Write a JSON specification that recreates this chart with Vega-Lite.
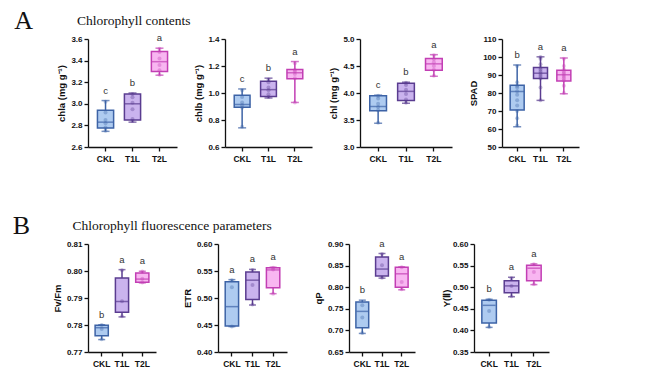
{
  "$schema": "https://vega.github.io/schema/vega-lite/v6.json",
  "padding": {"left": 12, "top": 7, "right": 5, "bottom": 5},
  "data": {"values": [
    {"panel":"chla","group":"CKL","min":2.745,"q1":2.775,"median":2.83,"q3":2.94,"max":3.03,"letter":"c"},
    {"panel":"chla","group":"T1L","min":2.83,"q1":2.85,"median":3.0,"q3":3.09,"max":3.1,"letter":"b"},
    {"panel":"chla","group":"T2L","min":3.265,"q1":3.3,"median":3.39,"q3":3.485,"max":3.515,"letter":"a"},
    {"panel":"chlb","group":"CKL","min":0.742,"q1":0.895,"median":0.915,"q3":0.983,"max":1.03,"letter":"c"},
    {"panel":"chlb","group":"T1L","min":0.963,"q1":0.975,"median":1.025,"q3":1.087,"max":1.11,"letter":"b"},
    {"panel":"chlb","group":"T2L","min":0.93,"q1":1.105,"median":1.15,"q3":1.175,"max":1.233,"letter":"a"},
    {"panel":"chl","group":"CKL","min":3.44,"q1":3.67,"median":3.75,"q3":3.95,"max":3.96,"letter":"c"},
    {"panel":"chl","group":"T1L","min":3.81,"q1":3.86,"median":4.03,"q3":4.18,"max":4.2,"letter":"b"},
    {"panel":"chl","group":"T2L","min":4.31,"q1":4.42,"median":4.54,"q3":4.64,"max":4.71,"letter":"a"},
    {"panel":"SPAD","group":"CKL","min":61.2,"q1":70.5,"median":80.9,"q3":84.3,"max":95.6,"letter":"b"},
    {"panel":"SPAD","group":"T1L","min":75.9,"q1":88.0,"median":91.0,"q3":94.2,"max":100.1,"letter":"a"},
    {"panel":"SPAD","group":"T2L","min":79.6,"q1":86.7,"median":90.1,"q3":92.7,"max":99.4,"letter":"a"},
    {"panel":"FvFm","group":"CKL","min":0.7746,"q1":0.776,"median":0.779,"q3":0.7799,"max":0.7801,"letter":"b"},
    {"panel":"FvFm","group":"T1L","min":0.783,"q1":0.7847,"median":0.7887,"q3":0.7974,"max":0.8005,"letter":"a"},
    {"panel":"FvFm","group":"T2L","min":0.7956,"q1":0.7958,"median":0.797,"q3":0.7993,"max":0.7999,"letter":"a"},
    {"panel":"ETR","group":"CKL","min":0.447,"q1":0.448,"median":0.484,"q3":0.53,"max":0.534,"letter":"a"},
    {"panel":"ETR","group":"T1L","min":0.487,"q1":0.497,"median":0.533,"q3":0.548,"max":0.553,"letter":"a"},
    {"panel":"ETR","group":"T2L","min":0.508,"q1":0.519,"median":0.552,"q3":0.556,"max":0.557,"letter":"a"},
    {"panel":"qP","group":"CKL","min":0.693,"q1":0.706,"median":0.744,"q3":0.766,"max":0.77,"letter":"b"},
    {"panel":"qP","group":"T1L","min":0.821,"q1":0.826,"median":0.842,"q3":0.87,"max":0.878,"letter":"a"},
    {"panel":"qP","group":"T2L","min":0.794,"q1":0.8,"median":0.831,"q3":0.846,"max":0.847,"letter":"a"},
    {"panel":"YII","group":"CKL","min":0.407,"q1":0.417,"median":0.458,"q3":0.47,"max":0.472,"letter":"b"},
    {"panel":"YII","group":"T1L","min":0.478,"q1":0.487,"median":0.503,"q3":0.515,"max":0.523,"letter":"a"},
    {"panel":"YII","group":"T2L","min":0.506,"q1":0.515,"median":0.544,"q3":0.551,"max":0.554,"letter":"a"},
    {"panel":"chla","group":"CKL","value":2.75},{"panel":"chla","group":"CKL","value":2.78},{"panel":"chla","group":"CKL","value":2.82},{"panel":"chla","group":"CKL","value":2.85},{"panel":"chla","group":"CKL","value":2.92},{"panel":"chla","group":"CKL","value":3.02},
    {"panel":"chla","group":"T1L","value":2.84},{"panel":"chla","group":"T1L","value":2.86},{"panel":"chla","group":"T1L","value":2.95},{"panel":"chla","group":"T1L","value":3.01},{"panel":"chla","group":"T1L","value":3.06},{"panel":"chla","group":"T1L","value":3.09},
    {"panel":"chla","group":"T2L","value":3.27},{"panel":"chla","group":"T2L","value":3.31},{"panel":"chla","group":"T2L","value":3.36},{"panel":"chla","group":"T2L","value":3.42},{"panel":"chla","group":"T2L","value":3.48},{"panel":"chla","group":"T2L","value":3.51},
    {"panel":"chlb","group":"CKL","value":0.75},{"panel":"chlb","group":"CKL","value":0.89},{"panel":"chlb","group":"CKL","value":0.91},{"panel":"chlb","group":"CKL","value":0.93},{"panel":"chlb","group":"CKL","value":0.97},{"panel":"chlb","group":"CKL","value":1.02},
    {"panel":"chlb","group":"T1L","value":0.97},{"panel":"chlb","group":"T1L","value":0.99},{"panel":"chlb","group":"T1L","value":1.02},{"panel":"chlb","group":"T1L","value":1.04},{"panel":"chlb","group":"T1L","value":1.08},{"panel":"chlb","group":"T1L","value":1.1},
    {"panel":"chlb","group":"T2L","value":0.93},{"panel":"chlb","group":"T2L","value":1.11},{"panel":"chlb","group":"T2L","value":1.14},{"panel":"chlb","group":"T2L","value":1.16},{"panel":"chlb","group":"T2L","value":1.17},{"panel":"chlb","group":"T2L","value":1.22},
    {"panel":"chl","group":"CKL","value":3.45},{"panel":"chl","group":"CKL","value":3.68},{"panel":"chl","group":"CKL","value":3.74},{"panel":"chl","group":"CKL","value":3.8},{"panel":"chl","group":"CKL","value":3.9},{"panel":"chl","group":"CKL","value":3.95},
    {"panel":"chl","group":"T1L","value":3.82},{"panel":"chl","group":"T1L","value":3.88},{"panel":"chl","group":"T1L","value":3.98},{"panel":"chl","group":"T1L","value":4.06},{"panel":"chl","group":"T1L","value":4.15},{"panel":"chl","group":"T1L","value":4.19},
    {"panel":"chl","group":"T2L","value":4.32},{"panel":"chl","group":"T2L","value":4.43},{"panel":"chl","group":"T2L","value":4.5},{"panel":"chl","group":"T2L","value":4.57},{"panel":"chl","group":"T2L","value":4.63},{"panel":"chl","group":"T2L","value":4.7},
    {"panel":"SPAD","group":"CKL","value":62},{"panel":"SPAD","group":"CKL","value":66},{"panel":"SPAD","group":"CKL","value":70},{"panel":"SPAD","group":"CKL","value":73},{"panel":"SPAD","group":"CKL","value":76},{"panel":"SPAD","group":"CKL","value":79},{"panel":"SPAD","group":"CKL","value":81},{"panel":"SPAD","group":"CKL","value":83},{"panel":"SPAD","group":"CKL","value":84},{"panel":"SPAD","group":"CKL","value":86},{"panel":"SPAD","group":"CKL","value":95},
    {"panel":"SPAD","group":"T1L","value":76},{"panel":"SPAD","group":"T1L","value":83},{"panel":"SPAD","group":"T1L","value":88},{"panel":"SPAD","group":"T1L","value":89},{"panel":"SPAD","group":"T1L","value":90},{"panel":"SPAD","group":"T1L","value":91},{"panel":"SPAD","group":"T1L","value":92},{"panel":"SPAD","group":"T1L","value":93},{"panel":"SPAD","group":"T1L","value":94},{"panel":"SPAD","group":"T1L","value":96},{"panel":"SPAD","group":"T1L","value":99},{"panel":"SPAD","group":"T1L","value":100},
    {"panel":"SPAD","group":"T2L","value":80},{"panel":"SPAD","group":"T2L","value":84},{"panel":"SPAD","group":"T2L","value":87},{"panel":"SPAD","group":"T2L","value":88},{"panel":"SPAD","group":"T2L","value":89},{"panel":"SPAD","group":"T2L","value":90},{"panel":"SPAD","group":"T2L","value":91},{"panel":"SPAD","group":"T2L","value":92},{"panel":"SPAD","group":"T2L","value":93},{"panel":"SPAD","group":"T2L","value":95},{"panel":"SPAD","group":"T2L","value":99},
    {"panel":"FvFm","group":"CKL","value":0.7747},{"panel":"FvFm","group":"CKL","value":0.7785},{"panel":"FvFm","group":"CKL","value":0.78},
    {"panel":"FvFm","group":"T1L","value":0.7832},{"panel":"FvFm","group":"T1L","value":0.7888},{"panel":"FvFm","group":"T1L","value":0.8003},
    {"panel":"FvFm","group":"T2L","value":0.7957},{"panel":"FvFm","group":"T2L","value":0.7971},{"panel":"FvFm","group":"T2L","value":0.7998},
    {"panel":"ETR","group":"CKL","value":0.447},{"panel":"ETR","group":"CKL","value":0.52},{"panel":"ETR","group":"CKL","value":0.533},
    {"panel":"ETR","group":"T1L","value":0.488},{"panel":"ETR","group":"T1L","value":0.524},{"panel":"ETR","group":"T1L","value":0.552},
    {"panel":"ETR","group":"T2L","value":0.508},{"panel":"ETR","group":"T2L","value":0.553},{"panel":"ETR","group":"T2L","value":0.556},
    {"panel":"qP","group":"CKL","value":0.694},{"panel":"qP","group":"CKL","value":0.73},{"panel":"qP","group":"CKL","value":0.758},
    {"panel":"qP","group":"T1L","value":0.822},{"panel":"qP","group":"T1L","value":0.851},{"panel":"qP","group":"T1L","value":0.877},
    {"panel":"qP","group":"T2L","value":0.795},{"panel":"qP","group":"T2L","value":0.812},{"panel":"qP","group":"T2L","value":0.846},
    {"panel":"YII","group":"CKL","value":0.408},{"panel":"YII","group":"CKL","value":0.445},{"panel":"YII","group":"CKL","value":0.471},
    {"panel":"YII","group":"T1L","value":0.479},{"panel":"YII","group":"T1L","value":0.503},{"panel":"YII","group":"T1L","value":0.521},
    {"panel":"YII","group":"T2L","value":0.507},{"panel":"YII","group":"T2L","value":0.535},{"panel":"YII","group":"T2L","value":0.553}
  ]},
  "config": {
    "view": {"stroke": null},
    "font": "Liberation Sans",
    "axis": {"domainColor": "#111", "domainWidth": 1.3, "tickColor": "#111", "tickWidth": 1.3, "tickSize": 4, "labelFont": "Liberation Sans", "labelFontWeight": "bold", "labelFontSize": 8, "labelColor": "#111", "titleFont": "Liberation Sans", "titleFontWeight": "bold", "titleFontSize": 9.5, "titleColor": "#111", "grid": false, "labelPadding": 2, "titlePadding": 4, "labelOverlap": false, "labelFlush": false, "labelBound": false},
    "axisX": {"labelAngle": 0, "labelPadding": 3, "labelFontSize": 8.5},
    "title": {"font": "Liberation Serif", "fontWeight": "normal", "fontSize": 13.5, "color": "#111", "anchor": "start", "offset": 6},
    "tick": {"thickness": 1.5},
    "text": {"font": "Liberation Sans", "fontSize": 9.5, "color": "#333", "baseline": "middle", "dy": -10},
    "circle": {"size": 16, "opacity": 0.35}
  },
  "spacing": 50,
  "vconcat": [
    {
      "title": {"text": "A", "orient": "left", "angle": 0, "anchor": "end", "font": "Liberation Serif", "fontSize": 26, "align": "right", "baseline": "top", "offset": 5, "dy": -6},
      "hconcat": [
        {
          "title": {"text": "Chlorophyll contents", "dx": 20},
          "spacing": 16,
          "hconcat": [
            {
              "width": 89, "height": 108,
              "transform": [{"filter": "datum.panel === 'chla'"}],
              "encoding": {"x": {"field": "group", "type": "nominal", "sort": null, "title": null, "scale": {"domain": ["CKL","T1L","T2L"], "paddingInner": 0.4, "paddingOuter": 0.35}}},
              "layer": [
                {"mark": {"type": "rule", "strokeWidth": 1.5}, "encoding": {"y": {"field": "min", "type": "quantitative", "title": "chla (mg g⁻¹)", "scale": {"domain": [2.6, 3.6], "nice": false, "zero": false}, "axis": {"values": [2.6, 2.8, 3.0, 3.2, 3.4, 3.6], "format": ".1f", "tickCount": 20}}, "y2": {"field": "max"}, "color": {"field": "group", "type": "nominal", "scale": {"domain": ["CKL","T1L","T2L"], "range": ["#3d63a6","#5a3c90","#c23fb4"]}, "legend": null}}},
                {"mark": {"type": "bar", "strokeWidth": 1.5}, "encoding": {"y": {"field": "q1", "type": "quantitative", "title": "chla (mg g⁻¹)"}, "y2": {"field": "q3"}, "fill": {"field": "group", "type": "nominal", "scale": {"domain": ["CKL","T1L","T2L"], "range": ["#aecbf0","#cab3ee","#f8b6f1"]}, "legend": null}, "stroke": {"field": "group", "type": "nominal", "scale": {"domain": ["CKL","T1L","T2L"], "range": ["#3d63a6","#5a3c90","#c23fb4"]}, "legend": null}}},
                {"mark": {"type": "circle"}, "encoding": {"y": {"field": "value", "type": "quantitative", "title": "chla (mg g⁻¹)"}, "color": {"field": "group", "type": "nominal", "legend": null}}},
                {"mark": {"type": "tick", "size": 16}, "encoding": {"y": {"field": "median", "type": "quantitative", "title": "chla (mg g⁻¹)"}, "color": {"field": "group", "type": "nominal", "legend": null}}},
                {"mark": {"type": "tick", "size": 8}, "encoding": {"y": {"field": "min", "type": "quantitative", "title": "chla (mg g⁻¹)"}, "color": {"field": "group", "type": "nominal", "legend": null}}},
                {"mark": {"type": "tick", "size": 8}, "encoding": {"y": {"field": "max", "type": "quantitative", "title": "chla (mg g⁻¹)"}, "color": {"field": "group", "type": "nominal", "legend": null}}},
                {"mark": {"type": "text"}, "encoding": {"y": {"field": "max", "type": "quantitative", "title": "chla (mg g⁻¹)"}, "text": {"field": "letter"}}}
              ]
            },
            {
              "width": 87, "height": 108,
              "transform": [{"filter": "datum.panel === 'chlb'"}],
              "encoding": {"x": {"field": "group", "type": "nominal", "sort": null, "title": null, "scale": {"domain": ["CKL","T1L","T2L"], "paddingInner": 0.4, "paddingOuter": 0.35}}},
              "layer": [
                {"mark": {"type": "rule", "strokeWidth": 1.5}, "encoding": {"y": {"field": "min", "type": "quantitative", "title": "chlb (mg g⁻¹)", "scale": {"domain": [0.6, 1.4], "nice": false, "zero": false}, "axis": {"values": [0.6, 0.8, 1.0, 1.2, 1.4], "format": ".1f", "tickCount": 20}}, "y2": {"field": "max"}, "color": {"field": "group", "type": "nominal", "scale": {"domain": ["CKL","T1L","T2L"], "range": ["#3d63a6","#5a3c90","#c23fb4"]}, "legend": null}}},
                {"mark": {"type": "bar", "strokeWidth": 1.5}, "encoding": {"y": {"field": "q1", "type": "quantitative", "title": "chlb (mg g⁻¹)"}, "y2": {"field": "q3"}, "fill": {"field": "group", "type": "nominal", "scale": {"domain": ["CKL","T1L","T2L"], "range": ["#aecbf0","#cab3ee","#f8b6f1"]}, "legend": null}, "stroke": {"field": "group", "type": "nominal", "scale": {"domain": ["CKL","T1L","T2L"], "range": ["#3d63a6","#5a3c90","#c23fb4"]}, "legend": null}}},
                {"mark": {"type": "circle"}, "encoding": {"y": {"field": "value", "type": "quantitative", "title": "chlb (mg g⁻¹)"}, "color": {"field": "group", "type": "nominal", "legend": null}}},
                {"mark": {"type": "tick", "size": 16}, "encoding": {"y": {"field": "median", "type": "quantitative", "title": "chlb (mg g⁻¹)"}, "color": {"field": "group", "type": "nominal", "legend": null}}},
                {"mark": {"type": "tick", "size": 8}, "encoding": {"y": {"field": "min", "type": "quantitative", "title": "chlb (mg g⁻¹)"}, "color": {"field": "group", "type": "nominal", "legend": null}}},
                {"mark": {"type": "tick", "size": 8}, "encoding": {"y": {"field": "max", "type": "quantitative", "title": "chlb (mg g⁻¹)"}, "color": {"field": "group", "type": "nominal", "legend": null}}},
                {"mark": {"type": "text"}, "encoding": {"y": {"field": "max", "type": "quantitative", "title": "chlb (mg g⁻¹)"}, "text": {"field": "letter"}}}
              ]
            },
            {
              "width": 92, "height": 108,
              "transform": [{"filter": "datum.panel === 'chl'"}],
              "encoding": {"x": {"field": "group", "type": "nominal", "sort": null, "title": null, "scale": {"domain": ["CKL","T1L","T2L"], "paddingInner": 0.4, "paddingOuter": 0.35}}},
              "layer": [
                {"mark": {"type": "rule", "strokeWidth": 1.5}, "encoding": {"y": {"field": "min", "type": "quantitative", "title": "chl (mg g⁻¹)", "scale": {"domain": [3.0, 5.0], "nice": false, "zero": false}, "axis": {"values": [3.0, 3.5, 4.0, 4.5, 5.0], "format": ".1f", "tickCount": 20}}, "y2": {"field": "max"}, "color": {"field": "group", "type": "nominal", "scale": {"domain": ["CKL","T1L","T2L"], "range": ["#3d63a6","#5a3c90","#c23fb4"]}, "legend": null}}},
                {"mark": {"type": "bar", "strokeWidth": 1.5}, "encoding": {"y": {"field": "q1", "type": "quantitative", "title": "chl (mg g⁻¹)"}, "y2": {"field": "q3"}, "fill": {"field": "group", "type": "nominal", "scale": {"domain": ["CKL","T1L","T2L"], "range": ["#aecbf0","#cab3ee","#f8b6f1"]}, "legend": null}, "stroke": {"field": "group", "type": "nominal", "scale": {"domain": ["CKL","T1L","T2L"], "range": ["#3d63a6","#5a3c90","#c23fb4"]}, "legend": null}}},
                {"mark": {"type": "circle"}, "encoding": {"y": {"field": "value", "type": "quantitative", "title": "chl (mg g⁻¹)"}, "color": {"field": "group", "type": "nominal", "legend": null}}},
                {"mark": {"type": "tick", "size": 17}, "encoding": {"y": {"field": "median", "type": "quantitative", "title": "chl (mg g⁻¹)"}, "color": {"field": "group", "type": "nominal", "legend": null}}},
                {"mark": {"type": "tick", "size": 8}, "encoding": {"y": {"field": "min", "type": "quantitative", "title": "chl (mg g⁻¹)"}, "color": {"field": "group", "type": "nominal", "legend": null}}},
                {"mark": {"type": "tick", "size": 8}, "encoding": {"y": {"field": "max", "type": "quantitative", "title": "chl (mg g⁻¹)"}, "color": {"field": "group", "type": "nominal", "legend": null}}},
                {"mark": {"type": "text"}, "encoding": {"y": {"field": "max", "type": "quantitative", "title": "chl (mg g⁻¹)"}, "text": {"field": "letter"}}}
              ]
            },
            {
              "width": 77, "height": 108,
              "transform": [{"filter": "datum.panel === 'SPAD'"}],
              "encoding": {"x": {"field": "group", "type": "nominal", "sort": null, "title": null, "scale": {"domain": ["CKL","T1L","T2L"], "paddingInner": 0.4, "paddingOuter": 0.35}}},
              "layer": [
                {"mark": {"type": "rule", "strokeWidth": 1.5}, "encoding": {"y": {"field": "min", "type": "quantitative", "title": "SPAD", "scale": {"domain": [50, 110], "nice": false, "zero": false}, "axis": {"values": [50, 60, 70, 80, 90, 100, 110], "format": "d", "tickCount": 20}}, "y2": {"field": "max"}, "color": {"field": "group", "type": "nominal", "scale": {"domain": ["CKL","T1L","T2L"], "range": ["#3d63a6","#5a3c90","#c23fb4"]}, "legend": null}}},
                {"mark": {"type": "bar", "strokeWidth": 1.5}, "encoding": {"y": {"field": "q1", "type": "quantitative", "title": "SPAD"}, "y2": {"field": "q3"}, "fill": {"field": "group", "type": "nominal", "scale": {"domain": ["CKL","T1L","T2L"], "range": ["#aecbf0","#cab3ee","#f8b6f1"]}, "legend": null}, "stroke": {"field": "group", "type": "nominal", "scale": {"domain": ["CKL","T1L","T2L"], "range": ["#3d63a6","#5a3c90","#c23fb4"]}, "legend": null}}},
                {"mark": {"type": "circle"}, "encoding": {"y": {"field": "value", "type": "quantitative", "title": "SPAD"}, "color": {"field": "group", "type": "nominal", "legend": null}}},
                {"mark": {"type": "tick", "size": 14}, "encoding": {"y": {"field": "median", "type": "quantitative", "title": "SPAD"}, "color": {"field": "group", "type": "nominal", "legend": null}}},
                {"mark": {"type": "tick", "size": 8}, "encoding": {"y": {"field": "min", "type": "quantitative", "title": "SPAD"}, "color": {"field": "group", "type": "nominal", "legend": null}}},
                {"mark": {"type": "tick", "size": 8}, "encoding": {"y": {"field": "max", "type": "quantitative", "title": "SPAD"}, "color": {"field": "group", "type": "nominal", "legend": null}}},
                {"mark": {"type": "text"}, "encoding": {"y": {"field": "max", "type": "quantitative", "title": "SPAD"}, "text": {"field": "letter"}}}
              ]
            }
          ]
        }
      ]
    },
    {
      "title": {"text": "B", "orient": "left", "angle": 0, "anchor": "end", "font": "Liberation Serif", "fontSize": 26, "align": "right", "baseline": "top", "offset": 5, "dy": -6},
      "hconcat": [
        {
          "title": {"text": "Chlorophyll fluorescence parameters", "dx": 20},
          "spacing": 26,
          "hconcat": [
            {
              "width": 68, "height": 108,
              "transform": [{"filter": "datum.panel === 'FvFm'"}],
              "encoding": {"x": {"field": "group", "type": "nominal", "sort": null, "title": null, "scale": {"domain": ["CKL","T1L","T2L"], "paddingInner": 0.35, "paddingOuter": 0.35}}},
              "layer": [
                {"mark": {"type": "rule", "strokeWidth": 1.5}, "encoding": {"y": {"field": "min", "type": "quantitative", "title": "Fv/Fm", "scale": {"domain": [0.77, 0.81], "nice": false, "zero": false}, "axis": {"values": [0.77, 0.78, 0.79, 0.80, 0.81], "format": ".2f", "tickCount": 20}}, "y2": {"field": "max"}, "color": {"field": "group", "type": "nominal", "scale": {"domain": ["CKL","T1L","T2L"], "range": ["#3d63a6","#5a3c90","#c23fb4"]}, "legend": null}}},
                {"mark": {"type": "bar", "strokeWidth": 1.5}, "encoding": {"y": {"field": "q1", "type": "quantitative", "title": "Fv/Fm"}, "y2": {"field": "q3"}, "fill": {"field": "group", "type": "nominal", "scale": {"domain": ["CKL","T1L","T2L"], "range": ["#aecbf0","#cab3ee","#f8b6f1"]}, "legend": null}, "stroke": {"field": "group", "type": "nominal", "scale": {"domain": ["CKL","T1L","T2L"], "range": ["#3d63a6","#5a3c90","#c23fb4"]}, "legend": null}}},
                {"mark": {"type": "circle"}, "encoding": {"y": {"field": "value", "type": "quantitative", "title": "Fv/Fm"}, "color": {"field": "group", "type": "nominal", "legend": null}}},
                {"mark": {"type": "tick", "size": 13}, "encoding": {"y": {"field": "median", "type": "quantitative", "title": "Fv/Fm"}, "color": {"field": "group", "type": "nominal", "legend": null}}},
                {"mark": {"type": "tick", "size": 7}, "encoding": {"y": {"field": "min", "type": "quantitative", "title": "Fv/Fm"}, "color": {"field": "group", "type": "nominal", "legend": null}}},
                {"mark": {"type": "tick", "size": 7}, "encoding": {"y": {"field": "max", "type": "quantitative", "title": "Fv/Fm"}, "color": {"field": "group", "type": "nominal", "legend": null}}},
                {"mark": {"type": "text"}, "encoding": {"y": {"field": "max", "type": "quantitative", "title": "Fv/Fm"}, "text": {"field": "letter"}}}
              ]
            },
            {
              "width": 69, "height": 108,
              "transform": [{"filter": "datum.panel === 'ETR'"}],
              "encoding": {"x": {"field": "group", "type": "nominal", "sort": null, "title": null, "scale": {"domain": ["CKL","T1L","T2L"], "paddingInner": 0.35, "paddingOuter": 0.35}}},
              "layer": [
                {"mark": {"type": "rule", "strokeWidth": 1.5}, "encoding": {"y": {"field": "min", "type": "quantitative", "title": "ETR", "scale": {"domain": [0.4, 0.6], "nice": false, "zero": false}, "axis": {"values": [0.40, 0.45, 0.50, 0.55, 0.60], "format": ".2f", "tickCount": 20}}, "y2": {"field": "max"}, "color": {"field": "group", "type": "nominal", "scale": {"domain": ["CKL","T1L","T2L"], "range": ["#3d63a6","#5a3c90","#c23fb4"]}, "legend": null}}},
                {"mark": {"type": "bar", "strokeWidth": 1.5}, "encoding": {"y": {"field": "q1", "type": "quantitative", "title": "ETR"}, "y2": {"field": "q3"}, "fill": {"field": "group", "type": "nominal", "scale": {"domain": ["CKL","T1L","T2L"], "range": ["#aecbf0","#cab3ee","#f8b6f1"]}, "legend": null}, "stroke": {"field": "group", "type": "nominal", "scale": {"domain": ["CKL","T1L","T2L"], "range": ["#3d63a6","#5a3c90","#c23fb4"]}, "legend": null}}},
                {"mark": {"type": "circle"}, "encoding": {"y": {"field": "value", "type": "quantitative", "title": "ETR"}, "color": {"field": "group", "type": "nominal", "legend": null}}},
                {"mark": {"type": "tick", "size": 13}, "encoding": {"y": {"field": "median", "type": "quantitative", "title": "ETR"}, "color": {"field": "group", "type": "nominal", "legend": null}}},
                {"mark": {"type": "tick", "size": 7}, "encoding": {"y": {"field": "min", "type": "quantitative", "title": "ETR"}, "color": {"field": "group", "type": "nominal", "legend": null}}},
                {"mark": {"type": "tick", "size": 7}, "encoding": {"y": {"field": "max", "type": "quantitative", "title": "ETR"}, "color": {"field": "group", "type": "nominal", "legend": null}}},
                {"mark": {"type": "text"}, "encoding": {"y": {"field": "max", "type": "quantitative", "title": "ETR"}, "text": {"field": "letter"}}}
              ]
            },
            {
              "width": 66, "height": 108,
              "transform": [{"filter": "datum.panel === 'qP'"}],
              "encoding": {"x": {"field": "group", "type": "nominal", "sort": null, "title": null, "scale": {"domain": ["CKL","T1L","T2L"], "paddingInner": 0.35, "paddingOuter": 0.35}}},
              "layer": [
                {"mark": {"type": "rule", "strokeWidth": 1.5}, "encoding": {"y": {"field": "min", "type": "quantitative", "title": "qP", "scale": {"domain": [0.65, 0.9], "nice": false, "zero": false}, "axis": {"values": [0.65, 0.70, 0.75, 0.80, 0.85, 0.90], "format": ".2f", "tickCount": 20}}, "y2": {"field": "max"}, "color": {"field": "group", "type": "nominal", "scale": {"domain": ["CKL","T1L","T2L"], "range": ["#3d63a6","#5a3c90","#c23fb4"]}, "legend": null}}},
                {"mark": {"type": "bar", "strokeWidth": 1.5}, "encoding": {"y": {"field": "q1", "type": "quantitative", "title": "qP"}, "y2": {"field": "q3"}, "fill": {"field": "group", "type": "nominal", "scale": {"domain": ["CKL","T1L","T2L"], "range": ["#aecbf0","#cab3ee","#f8b6f1"]}, "legend": null}, "stroke": {"field": "group", "type": "nominal", "scale": {"domain": ["CKL","T1L","T2L"], "range": ["#3d63a6","#5a3c90","#c23fb4"]}, "legend": null}}},
                {"mark": {"type": "circle"}, "encoding": {"y": {"field": "value", "type": "quantitative", "title": "qP"}, "color": {"field": "group", "type": "nominal", "legend": null}}},
                {"mark": {"type": "tick", "size": 12}, "encoding": {"y": {"field": "median", "type": "quantitative", "title": "qP"}, "color": {"field": "group", "type": "nominal", "legend": null}}},
                {"mark": {"type": "tick", "size": 7}, "encoding": {"y": {"field": "min", "type": "quantitative", "title": "qP"}, "color": {"field": "group", "type": "nominal", "legend": null}}},
                {"mark": {"type": "tick", "size": 7}, "encoding": {"y": {"field": "max", "type": "quantitative", "title": "qP"}, "color": {"field": "group", "type": "nominal", "legend": null}}},
                {"mark": {"type": "text"}, "encoding": {"y": {"field": "max", "type": "quantitative", "title": "qP"}, "text": {"field": "letter"}}}
              ]
            },
            {
              "width": 75, "height": 108,
              "transform": [{"filter": "datum.panel === 'YII'"}],
              "encoding": {"x": {"field": "group", "type": "nominal", "sort": null, "title": null, "scale": {"domain": ["CKL","T1L","T2L"], "paddingInner": 0.35, "paddingOuter": 0.35}}},
              "layer": [
                {"mark": {"type": "rule", "strokeWidth": 1.5}, "encoding": {"y": {"field": "min", "type": "quantitative", "title": "Y(Ⅱ)", "scale": {"domain": [0.35, 0.6], "nice": false, "zero": false}, "axis": {"values": [0.35, 0.40, 0.45, 0.50, 0.55, 0.60], "format": ".2f", "tickCount": 20, "titlePadding": 1}}, "y2": {"field": "max"}, "color": {"field": "group", "type": "nominal", "scale": {"domain": ["CKL","T1L","T2L"], "range": ["#3d63a6","#5a3c90","#c23fb4"]}, "legend": null}}},
                {"mark": {"type": "bar", "strokeWidth": 1.5}, "encoding": {"y": {"field": "q1", "type": "quantitative", "title": "Y(Ⅱ)"}, "y2": {"field": "q3"}, "fill": {"field": "group", "type": "nominal", "scale": {"domain": ["CKL","T1L","T2L"], "range": ["#aecbf0","#cab3ee","#f8b6f1"]}, "legend": null}, "stroke": {"field": "group", "type": "nominal", "scale": {"domain": ["CKL","T1L","T2L"], "range": ["#3d63a6","#5a3c90","#c23fb4"]}, "legend": null}}},
                {"mark": {"type": "circle"}, "encoding": {"y": {"field": "value", "type": "quantitative", "title": "Y(Ⅱ)"}, "color": {"field": "group", "type": "nominal", "legend": null}}},
                {"mark": {"type": "tick", "size": 13}, "encoding": {"y": {"field": "median", "type": "quantitative", "title": "Y(Ⅱ)"}, "color": {"field": "group", "type": "nominal", "legend": null}}},
                {"mark": {"type": "tick", "size": 7}, "encoding": {"y": {"field": "min", "type": "quantitative", "title": "Y(Ⅱ)"}, "color": {"field": "group", "type": "nominal", "legend": null}}},
                {"mark": {"type": "tick", "size": 7}, "encoding": {"y": {"field": "max", "type": "quantitative", "title": "Y(Ⅱ)"}, "color": {"field": "group", "type": "nominal", "legend": null}}},
                {"mark": {"type": "text"}, "encoding": {"y": {"field": "max", "type": "quantitative", "title": "Y(Ⅱ)"}, "text": {"field": "letter"}}}
              ]
            }
          ]
        }
      ]
    }
  ]
}
